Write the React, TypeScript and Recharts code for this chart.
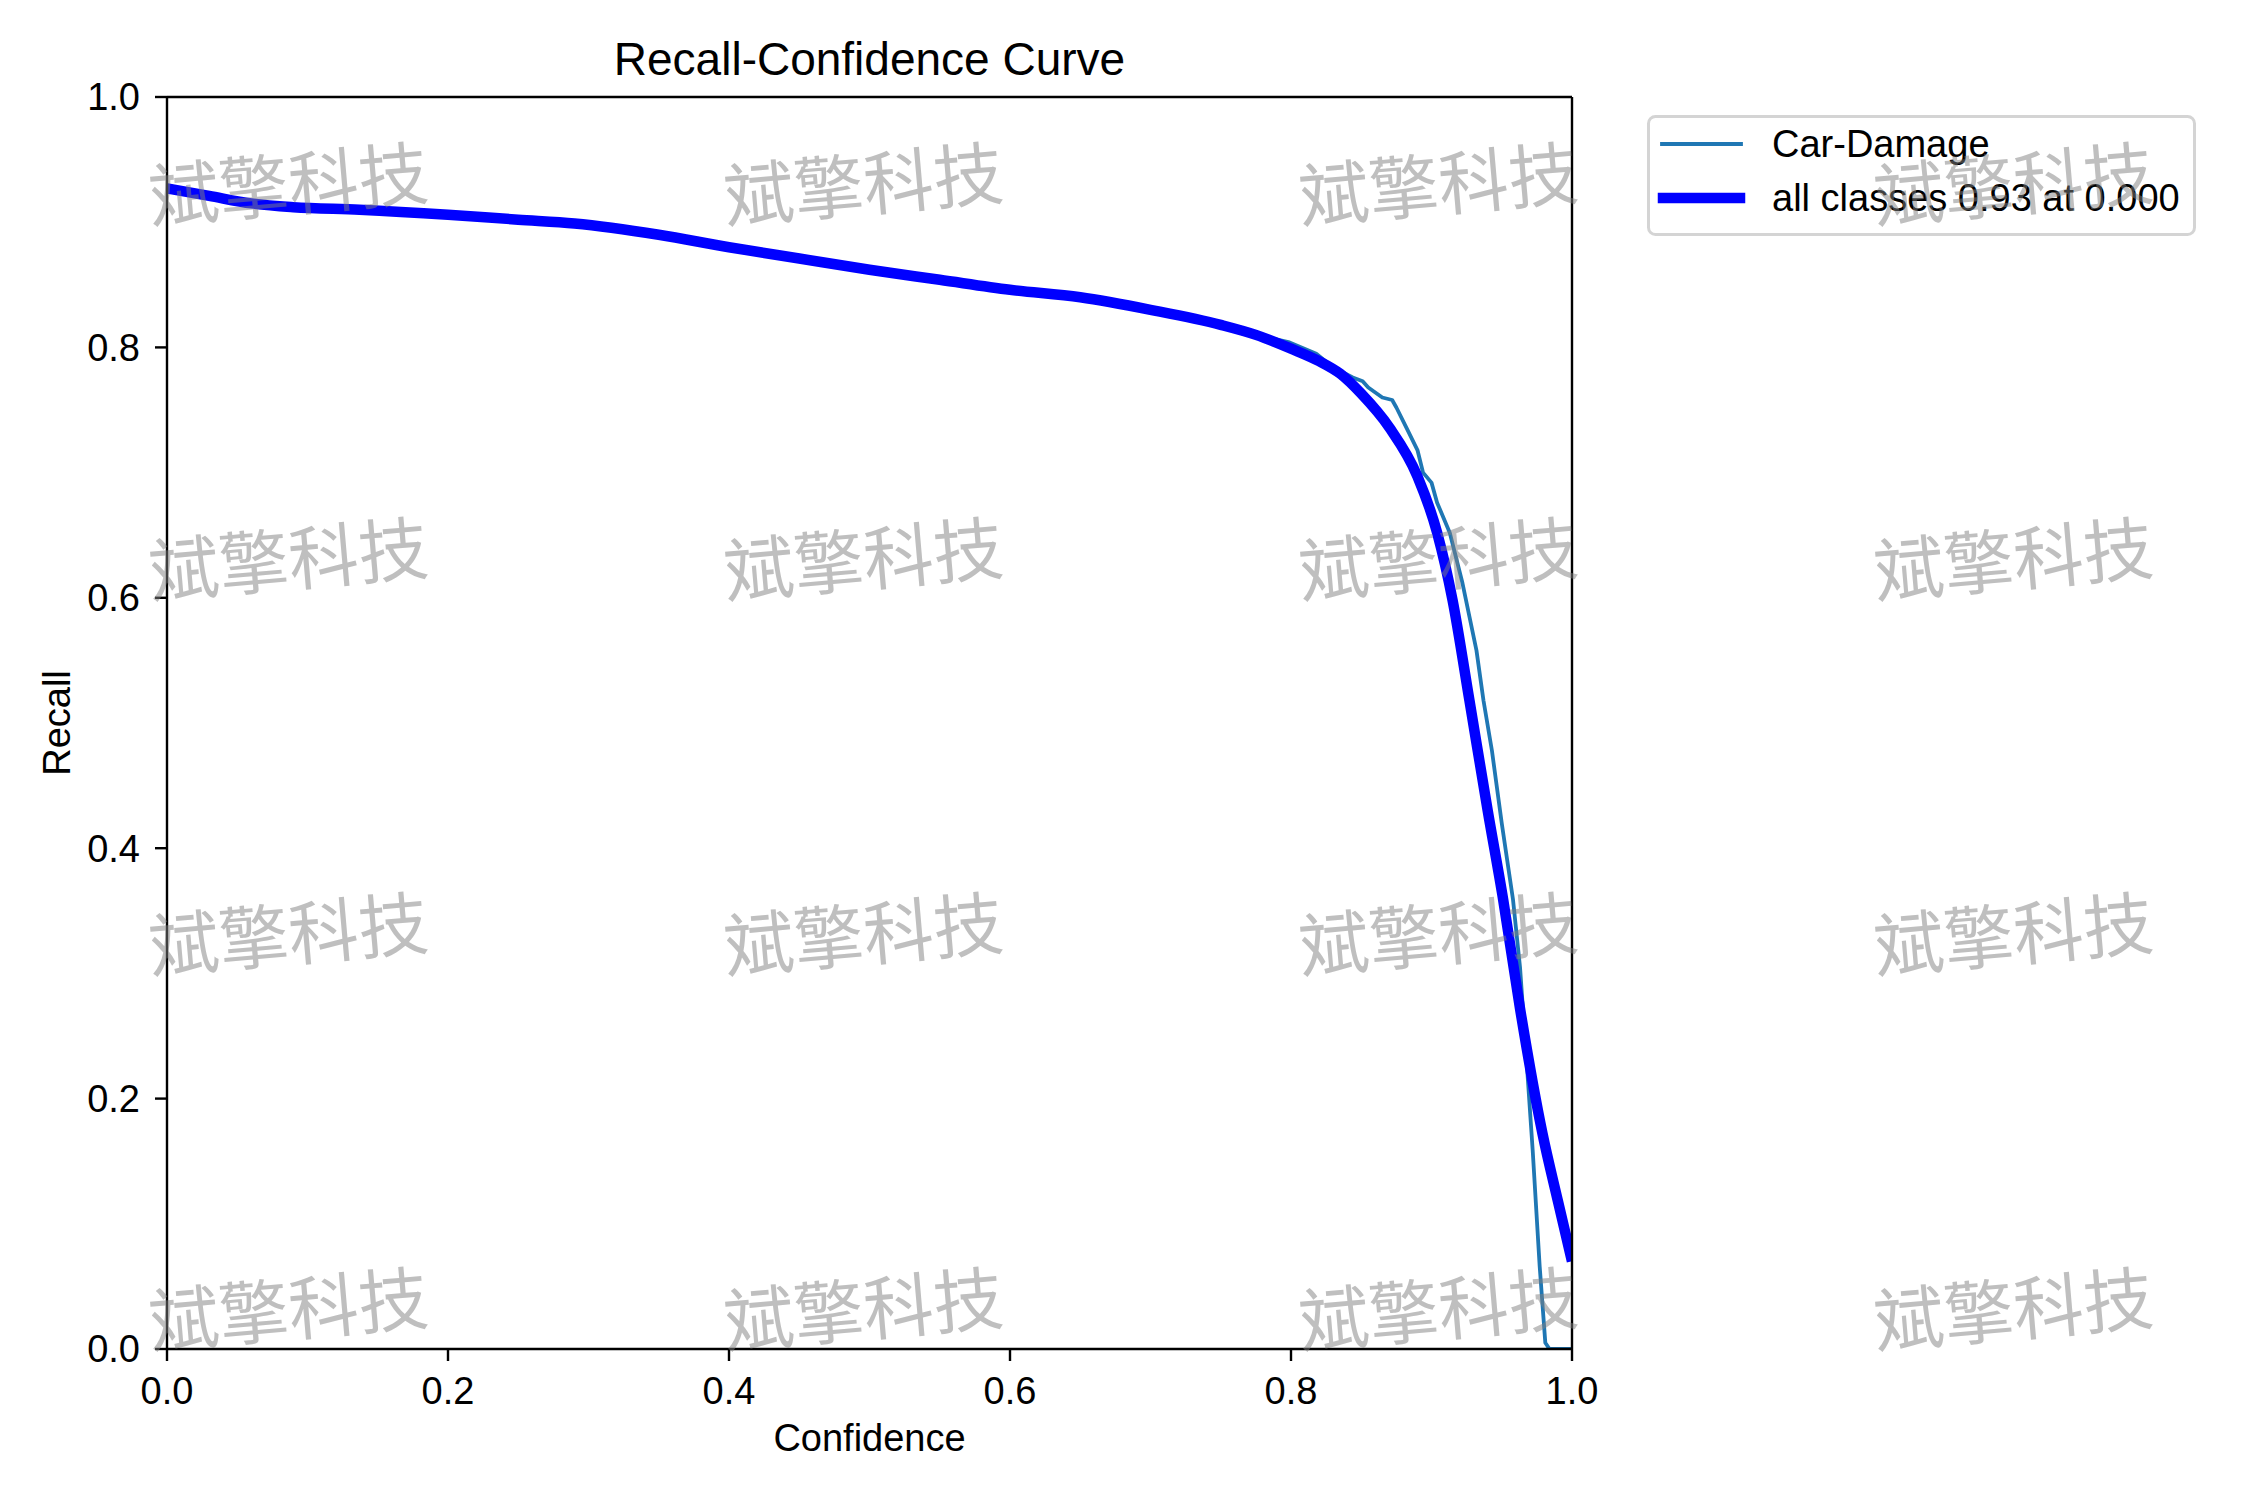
import React from 'react';
import { LineChart, Line, XAxis, YAxis, Legend, ReferenceLine } from 'recharts';

// ---- data ----
const xTicks = [0, 0.2, 0.4, 0.6, 0.8, 1.0];
const yTicks = [0, 0.2, 0.4, 0.6, 0.8, 1.0];

const seriesClassName = 'Car-Damage';
const seriesAllName = 'all classes 0.93 at 0.000';

const confAll = [0, 0.03, 0.06, 0.09, 0.137, 0.2, 0.25, 0.29, 0.35, 0.4, 0.45, 0.5, 0.55, 0.6, 0.65, 0.7, 0.75, 0.775, 0.8, 0.82, 0.835, 0.85, 0.87, 0.89, 0.904, 0.915, 0.927, 0.94, 0.951, 0.963, 0.979, 0.99, 1.0];
const recallAll = [0.927, 0.921, 0.915, 0.912, 0.910, 0.906, 0.902, 0.899, 0.890, 0.880, 0.871, 0.862, 0.854, 0.846, 0.840, 0.830, 0.818, 0.810, 0.799, 0.789, 0.779, 0.763, 0.736, 0.697, 0.652, 0.598, 0.518, 0.430, 0.359, 0.272, 0.172, 0.118, 0.070];

const confCls = [0, 0.03, 0.06, 0.09, 0.137, 0.2, 0.25, 0.29, 0.35, 0.4, 0.45, 0.5, 0.55, 0.6, 0.65, 0.7, 0.75, 0.775, 0.799, 0.818, 0.83, 0.844, 0.851, 0.855, 0.865, 0.872, 0.875, 0.883, 0.89, 0.894, 0.9, 0.904, 0.913, 0.922, 0.927, 0.932, 0.937, 0.943, 0.95, 0.958, 0.963, 0.968, 0.972, 0.977, 0.981, 0.984, 1.0];
const recallCls = [0.927, 0.921, 0.915, 0.912, 0.910, 0.906, 0.902, 0.899, 0.890, 0.880, 0.871, 0.862, 0.854, 0.846, 0.840, 0.830, 0.818, 0.810, 0.804, 0.795, 0.784, 0.776, 0.773, 0.768, 0.760, 0.758, 0.752, 0.734, 0.718, 0.700, 0.692, 0.676, 0.652, 0.612, 0.585, 0.558, 0.518, 0.478, 0.420, 0.359, 0.305, 0.225, 0.159, 0.066, 0.005, 0.000, 0.000];

const titleText = 'Recall-Confidence Curve';
const xLabelText = 'Confidence';
const yLabelText = 'Recall';
const watermarkText = '斌擎科技';

// ---- layout / style ----
const W = 2250;
const H = 1500;
const FONT = '"Liberation Sans", Arial, Helvetica, sans-serif';
const PLOT_LEFT = 167;
const PLOT_RIGHT = 1572;
const PLOT_TOP = 97;
const PLOT_BOTTOM = 1349;
const Y_AXIS_W = 100;
const X_AXIS_H = 100;
const CLS_COLOR = '#1f77b4';
const ALL_COLOR = '#0000ff';

const wmCols = [288, 863, 1438, 2013];
const wmRows = [180, 555, 930, 1305];

const fmt = (v: number) => v.toFixed(1);

function LegendBox() {
  return (
    <svg width={549} height={121} style={{ display: 'block' }}>
      <rect x={1.5} y={1.5} width={546} height={118} rx={7} ry={7}
        fill="#ffffff" fillOpacity={0.8} stroke="#d4d4d4" strokeWidth={3} />
      <line x1={15} y1={29} x2={94} y2={29} stroke={CLS_COLOR} strokeWidth={3.8} strokeLinecap="square" />
      <text x={125} y={42} fontSize={38} fontFamily={FONT} fill="#000">{seriesClassName}</text>
      <line x1={16} y1={83} x2={93} y2={83} stroke={ALL_COLOR} strokeWidth={10.5} strokeLinecap="square" />
      <text x={125} y={96} fontSize={38} fontFamily={FONT} fill="#000">{seriesAllName}</text>
    </svg>
  );
}

export default function App() {
  const dataCls = confCls.map((x, i) => ({ x, y: recallCls[i] }));
  const dataAll = confAll.map((x, i) => ({ x, y: recallAll[i] }));
  const axisStroke = { stroke: '#000', strokeWidth: 2.4 };
  const tickStyle = { fill: '#000', fontSize: 38, fontFamily: FONT };

  return (
    <div style={{ position: 'absolute', left: 0, top: 0, width: W, height: H, background: '#fff', fontFamily: FONT }}>
      <LineChart
        width={W}
        height={H}
        margin={{ top: PLOT_TOP, right: W - PLOT_RIGHT, bottom: H - PLOT_BOTTOM - X_AXIS_H, left: PLOT_LEFT - Y_AXIS_W }}
      >
        <XAxis
          type="number"
          dataKey="x"
          domain={[0, 1]}
          ticks={xTicks}
          allowDataOverflow
          tickFormatter={fmt}
          height={X_AXIS_H}
          tickSize={12}
          tickMargin={16}
          axisLine={axisStroke}
          tickLine={axisStroke}
          tick={tickStyle}
        />
        <YAxis
          type="number"
          dataKey="y"
          domain={[0, 1]}
          ticks={yTicks}
          allowDataOverflow
          tickFormatter={fmt}
          width={Y_AXIS_W}
          tickSize={12}
          tickMargin={15}
          axisLine={axisStroke}
          tickLine={axisStroke}
          tick={tickStyle}
        />
        <Line
          data={dataCls}
          dataKey="y"
          name={seriesClassName}
          type="linear"
          stroke={CLS_COLOR}
          strokeWidth={3.8}
          dot={false}
          activeDot={false}
          isAnimationActive={false}
          strokeLinejoin="round"
        />
        <Line
          data={dataAll}
          dataKey="y"
          name={seriesAllName}
          type="monotone"
          stroke={ALL_COLOR}
          strokeWidth={10.5}
          dot={false}
          activeDot={false}
          isAnimationActive={false}
          strokeLinejoin="round"
        />
        <ReferenceLine y={1} stroke="#000" strokeWidth={2.4} ifOverflow="visible" />
        <ReferenceLine x={1} stroke="#000" strokeWidth={2.4} ifOverflow="visible" />
        <Legend
          layout="vertical"
          align="center"
          verticalAlign="middle"
          wrapperStyle={{ left: 1647, top: 115, width: 549, height: 121, margin: 0, padding: 0 }}
          content={() => <LegendBox />}
        />
      </LineChart>
      <svg width={W} height={H} style={{ position: 'absolute', left: 0, top: 0, pointerEvents: 'none' }}>
        <text x={(PLOT_LEFT + PLOT_RIGHT) / 2} y={75} textAnchor="middle" fontSize={46} fontFamily={FONT} fill="#000">{titleText}</text>
        <text x={(PLOT_LEFT + PLOT_RIGHT) / 2} y={1451} textAnchor="middle" fontSize={38} fontFamily={FONT} fill="#000">{xLabelText}</text>
        <text x={0} y={0} transform={`translate(70, ${(PLOT_TOP + PLOT_BOTTOM) / 2}) rotate(-90)`} textAnchor="middle" fontSize={38} fontFamily={FONT} fill="#000">{yLabelText}</text>
        {wmRows.map((cy) =>
          wmCols.map((cx) => (
            <text
              key={`${cx}-${cy}`}
              x={cx}
              y={cy}
              textAnchor="middle"
              dominantBaseline="central"
              fontSize={70}
              fontFamily='"Noto Sans CJK SC", sans-serif'
              fill="#808080"
              fillOpacity={0.5}
              transform={`rotate(-5 ${cx} ${cy})`}
            >
              {watermarkText}
            </text>
          ))
        )}
      </svg>
    </div>
  );
}
